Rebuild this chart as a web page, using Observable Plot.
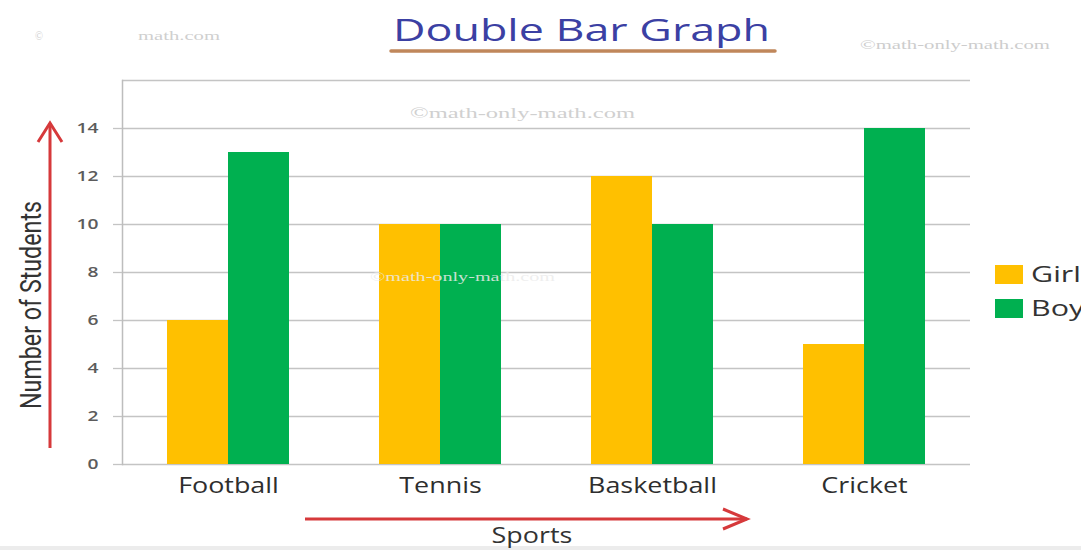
<!DOCTYPE html>
<html><head><meta charset="utf-8">
<script src="https://cdn.jsdelivr.net/npm/d3@7"></script>
<script src="https://cdn.jsdelivr.net/npm/@observablehq/plot@0.6"></script>
<style>
body{margin:0;background:#fff}
#wrap{position:relative;width:1081px;height:550px;overflow:hidden;background:#fff}
#wrap svg{position:absolute;left:0;top:0}
</style>
</head><body><div id="wrap"></div>
<script>
const sports = ["Football", "Tennis", "Basketball", "Cricket"];
const groups = ["Girls", "Boys"];
const girls = [6, 10, 12, 5];
const boys = [13, 10, 10, 14];
const colors = ["#FFC000", "#00B050"];
const yTicks = [0, 2, 4, 6, 8, 10, 12, 14];
const gridTicks = [0, 2, 4, 6, 8, 10, 12, 14, 16];
const title = "Double Bar Graph";
const xLabel = "Sports";
const yLabel = "Number of Students";
const watermark = "©math-only-math.com";

const data = sports.flatMap((s, i) => [
  {sport: s, group: groups[0], value: girls[i]},
  {sport: s, group: groups[1], value: boys[i]}
]);

const STRETCH = 1.28;
function stretch(t, f = STRETCH) {
  const w = t.getComputedTextLength();
  t.setAttribute("textLength", w * f);
  t.setAttribute("lengthAdjust", "spacingAndGlyphs");
}

const chart = Plot.plot({
  width: 1081, height: 550,
  marginLeft: 122, marginRight: 111, marginTop: 80, marginBottom: 86,
  style: {background: "transparent", fontFamily: "Open Sans"},
  fx: {domain: sports, padding: 0, label: null},
  x: {domain: groups, paddingInner: 0, paddingOuter: 0.7377, axis: null},
  y: {domain: [0, 16], axis: null},
  color: {domain: groups, range: colors},
  marks: [
    Plot.gridY(gridTicks, {stroke: "#c4c4c4", strokeOpacity: 1, strokeWidth: 1.3}),
    Plot.frame({anchor: "left", facetAnchor: "left", stroke: "#bdbdbd", strokeWidth: 1.5}),
    Plot.barY(data, {fx: "sport", x: "group", y: "value", fill: "group"}),
    Plot.axisY(yTicks, {tickSize: 9, tickPadding: 15, fontSize: 15, fontWeight: 600, fill: "#5c5c5c", stroke: "#c4c4c4", strokeWidth: 1.3, label: null}),
    Plot.axisFx({anchor: "bottom", tickSize: 0, tickPadding: 14, fontSize: 21, fill: "#2e2e2e", label: null})
  ]
});
const wrap = document.getElementById("wrap");
wrap.appendChild(chart);
chart.querySelectorAll('g[aria-label="fx-axis tick label"] text, g[aria-label="y-axis tick label"] text').forEach(t => stretch(t));

// overlay: title, axis labels, arrows, legend, watermarks
const ov = d3.select(wrap).append("svg").attr("width", 1081).attr("height", 550)
  .style("pointer-events", "none").style("font-family", "Open Sans");

ov.append("rect").attr("x", 0).attr("y", 546).attr("width", 1081).attr("height", 4).attr("fill", "#ececec");

// watermarks
const wm = (x, y, size, fill, txt, len) => ov.append("text").attr("x", x).attr("y", y)
  .attr("font-family", "Liberation Serif, DejaVu Serif, serif").attr("font-size", size).attr("fill", fill)
  .attr("textLength", len).attr("lengthAdjust", "spacingAndGlyphs").text(txt);
wm(35, 40, 12, "#cfcfcf", "©", 8);
wm(138, 40, 12, "#cfcfcf", "math.com", 82);
wm(860, 49, 13, "#cdcdcd", watermark, 190);
wm(410, 118, 15, "#d0d0d0", watermark, 225);
wm(370, 281, 13, "rgba(235,235,235,0.85)", watermark, 185);

// title
ov.append("text").attr("x", 393).attr("y", 41).attr("font-size", 31).attr("fill", "#3b40a3")
  .attr("textLength", 377).attr("lengthAdjust", "spacingAndGlyphs").text(title);
ov.append("line").attr("x1", 391).attr("x2", 775).attr("y1", 51).attr("y2", 51)
  .attr("stroke", "#c0875b").attr("stroke-width", 3.5).attr("stroke-linecap", "round");

// y label
ov.append("text").attr("transform", "translate(41,305) scale(1.3,1) rotate(-90)")
  .attr("text-anchor", "middle").attr("font-family", "Liberation Sans Narrow, Roboto, sans-serif")
  .attr("font-size", 22).attr("fill", "#333").attr("textLength", 208).attr("lengthAdjust", "spacingAndGlyphs")
  .text(yLabel);

// x label
const xl = ov.append("text").attr("x", 532).attr("y", 543).attr("text-anchor", "middle")
  .attr("font-size", 21).attr("fill", "#333").text(xLabel);
stretch(xl.node());

// arrows
const red = "#d6393b";
ov.append("line").attr("x1", 50).attr("y1", 448).attr("x2", 50).attr("y2", 123).attr("stroke", red).attr("stroke-width", 3);
ov.append("polyline").attr("points", "38,142 50,123 62,142").attr("fill", "none").attr("stroke", red).attr("stroke-width", 3);
ov.append("line").attr("x1", 305).attr("y1", 519).attr("x2", 747).attr("y2", 519).attr("stroke", red).attr("stroke-width", 3);
ov.append("polyline").attr("points", "723,509 747,519 723,529").attr("fill", "none").attr("stroke", red).attr("stroke-width", 3);

// legend
groups.forEach((g, i) => {
  ov.append("rect").attr("x", 995).attr("y", 265 + i * 34).attr("width", 28).attr("height", 19).attr("fill", colors[i]);
  const t = ov.append("text").attr("x", 1031).attr("y", 282 + i * 34).attr("font-size", 21).attr("fill", "#333").text(g);
  stretch(t.node(), 1.45);
});
</script>
</body></html>
